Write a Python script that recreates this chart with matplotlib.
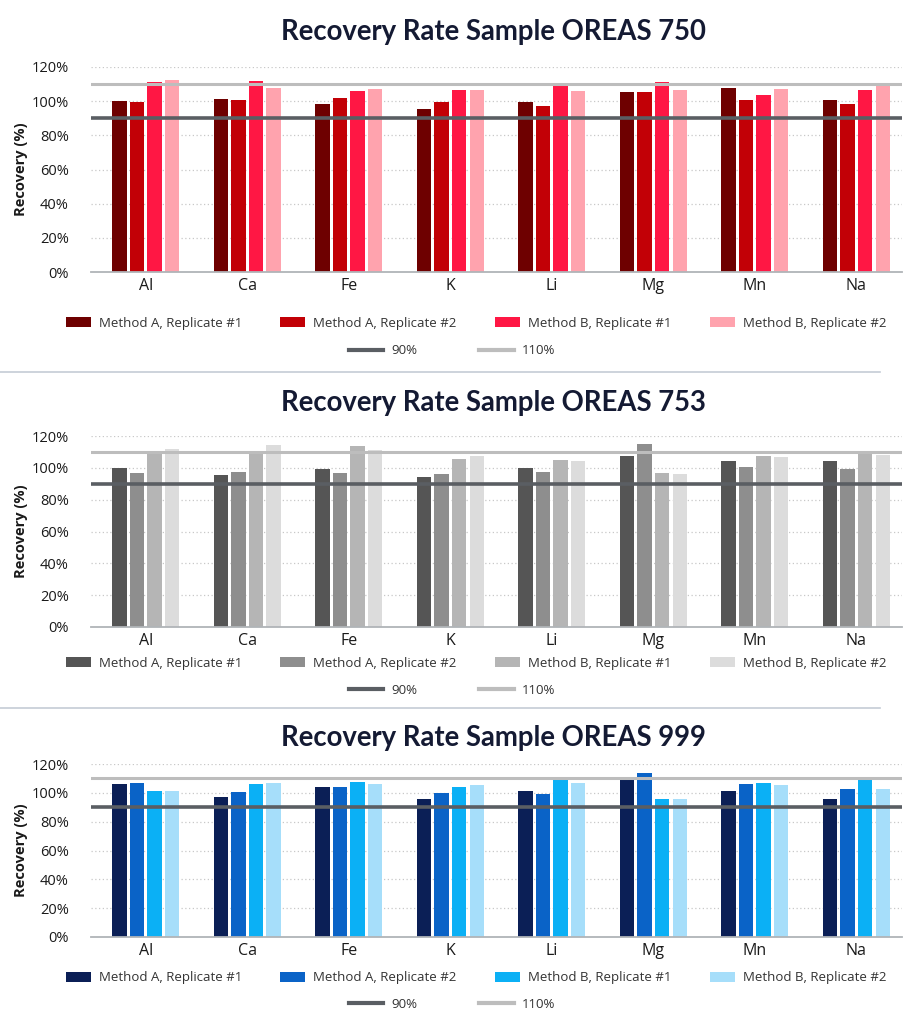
import matplotlib
matplotlib.use("Agg")
import matplotlib.pyplot as plt
import numpy as np
from matplotlib.patches import Patch
from matplotlib.lines import Line2D

plt.rcParams['font.family'] = ['Open Sans', 'DejaVu Sans']

elements = ["Al", "Ca", "Fe", "K", "Li", "Mg", "Mn", "Na"]
series_names = ["Method A, Replicate #1", "Method A, Replicate #2",
                "Method B, Replicate #1", "Method B, Replicate #2"]
yticks = [0, 20, 40, 60, 80, 100, 120]
ytick_labels = ["0%", "20%", "40%", "60%", "80%", "100%", "120%"]
limit_low = 90
limit_high = 110

titles = ["Recovery Rate Sample OREAS 750",
          "Recovery Rate Sample OREAS 753",
          "Recovery Rate Sample OREAS 999"]

oreas750_a1 = [100.2, 101.2, 98.4, 95.3, 99.8, 105.1, 108.0, 100.4]
oreas750_a2 = [99.8, 100.4, 101.8, 99.8, 96.9, 105.1, 100.6, 98.4]
oreas750_b1 = [111.0, 111.9, 105.9, 106.8, 108.8, 111.0, 103.7, 106.7]
oreas750_b2 = [112.5, 107.8, 107.2, 106.8, 106.1, 106.8, 107.0, 108.6]

oreas753_a1 = [100.0, 95.4, 99.4, 94.5, 99.8, 107.2, 104.6, 104.6]
oreas753_a2 = [97.0, 97.5, 96.6, 96.0, 97.5, 115.0, 100.8, 99.2]
oreas753_b1 = [110.8, 110.5, 114.0, 105.7, 104.9, 96.6, 107.2, 110.5]
oreas753_b2 = [112.0, 114.1, 111.4, 107.4, 104.4, 96.0, 107.0, 107.8]

oreas999_a1 = [106.0, 97.0, 104.0, 95.6, 101.6, 110.5, 101.2, 95.6]
oreas999_a2 = [107.0, 100.7, 104.0, 100.0, 99.5, 113.5, 106.3, 103.0]
oreas999_b1 = [101.4, 106.3, 107.8, 103.7, 110.5, 95.8, 106.8, 109.3]
oreas999_b2 = [101.4, 107.0, 105.9, 105.4, 107.0, 96.0, 105.4, 102.8]

datasets = [
    [oreas750_a1, oreas750_a2, oreas750_b1, oreas750_b2],
    [oreas753_a1, oreas753_a2, oreas753_b1, oreas753_b2],
    [oreas999_a1, oreas999_a2, oreas999_b1, oreas999_b2],
]
palettes = [
    ["#6e0000", "#c20006", "#ff1744", "#ffa3ae"],
    ["#555555", "#8e8e8e", "#b5b5b5", "#dcdcdc"],
    ["#0b1f56", "#0a63c7", "#0bb0f5", "#a6defa"],
]

W, H = 911, 1024
fig = plt.figure(figsize=(W / 100, H / 100), dpi=100)

# (top of 120% px, bottom 0% px, title y px, legend row1 y, legend row2 y)
layout = [
    (67, 272, 32, 323, 351),
    (436, 627, 403, 663, 690),
    (764, 937, 738, 978, 1004),
]
ax_left, ax_right = 91, 902
line_dark = "#5a5e63"
line_light = "#bdbdbd"
title_color = "#141a33"
text_color = "#1a1a1a"

x = np.arange(len(elements))
bw = 0.141
pitch = 0.173
offsets = (np.arange(4) - 1.5) * pitch

for i, (data, pal) in enumerate(zip(datasets, palettes)):
    top, bot, ty, l1, l2 = layout[i]
    ax = fig.add_axes([ax_left / W, 1 - bot / H, (ax_right - ax_left) / W, (bot - top) / H])
    for j in range(4):
        ax.bar(x + offsets[j], data[j], width=bw, color=pal[j], zorder=2,
               label=series_names[j])
    ax.axhline(limit_low, color=line_dark, lw=2.6, zorder=3)
    ax.axhline(limit_high, color=line_light, lw=2.2, zorder=3)
    ax.set_ylim(0, 120)
    ax.set_xlim(-0.54, 7.45)
    ax.set_yticks(yticks)
    ax.set_yticklabels(ytick_labels, fontsize=10.5, color=text_color)
    ax.set_xticks(x)
    ax.set_xticklabels(elements, fontsize=11.5, color=text_color)
    ax.tick_params(axis='both', length=0, pad=4)
    ax.tick_params(axis='y', pad=16)
    for y in yticks[1:]:
        ax.axhline(y, color="#c8c8c8", lw=0.9, ls=(0, (1, 2)), zorder=1)
    for s in ["left", "right", "top"]:
        ax.spines[s].set_visible(False)
    ax.spines["bottom"].set_color("#b0b4b8")
    ax.spines["bottom"].set_linewidth(1.3)
    ax.set_ylabel("Recovery (%)", fontsize=10.5, fontweight="bold", color=text_color)
    ax.yaxis.set_label_coords(-0.078, 0.5)
    fig.text(0.5 * (ax_left + ax_right) / W - 0.003, 1 - ty / H, titles[i],
             ha="center", va="center", fontsize=19.8, fontweight="bold",
             color=title_color, family=["Lato", "DejaVu Sans"])
    handles = [Patch(facecolor=c, edgecolor="none") for c in pal]
    leg1 = fig.legend(handles, series_names, loc="center", ncol=4,
                      bbox_to_anchor=(476 / W, 1 - l1 / H), frameon=False,
                      fontsize=9.5, handlelength=1.9, handleheight=0.75,
                      handletextpad=0.6, columnspacing=2.9)
    for t in leg1.get_texts():
        t.set_color("#333333")
    lh = [Line2D([0], [0], color=line_dark, lw=3), Line2D([0], [0], color=line_light, lw=3)]
    leg2 = fig.legend(lh, ["90%", "110%"], loc="center", ncol=2,
                      bbox_to_anchor=(452 / W, 1 - l2 / H), frameon=False,
                      fontsize=9.5, handlelength=2.6, handletextpad=0.6, columnspacing=4.7)
    for t in leg2.get_texts():
        t.set_color("#333333")

# separator lines
for ysep in [372, 708]:
    fig.add_artist(Line2D([0, 880 / W], [1 - ysep / H, 1 - ysep / H],
                          color="#c5ccd6", lw=1.2, transform=fig.transFigure))

fig.savefig("out.png", dpi=100, facecolor="white")
